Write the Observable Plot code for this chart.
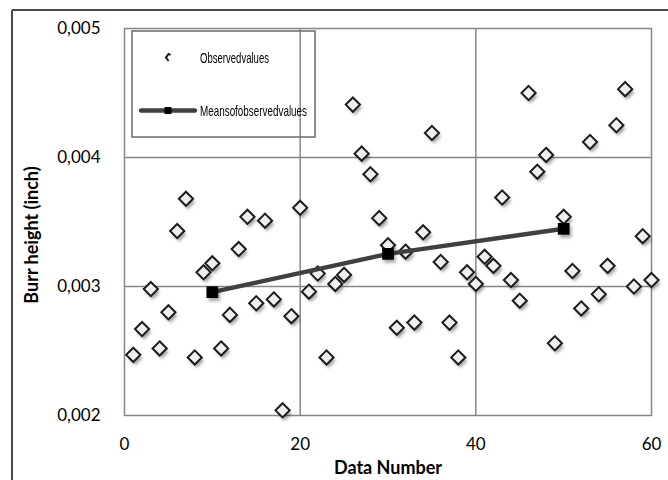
<!DOCTYPE html>
<html><head><meta charset="utf-8">
<script src="https://cdn.jsdelivr.net/npm/d3@7"></script>
<script src="https://cdn.jsdelivr.net/npm/@observablehq/plot@0.6"></script>
<style>body{margin:0;background:#fff;} svg{display:block}</style>
</head><body><div id="chart"></div>
<script>
const dataNumber = [1,2,3,4,5,6,7,8,9,10,11,12,13,14,15,16,17,18,19,20,21,22,23,24,25,26,27,28,29,30,31,32,33,34,35,36,37,38,39,40,41,42,43,44,45,46,47,48,49,50,51,52,53,54,55,56,57,58,59,60];
const burrHeight = [
  0.00247,0.00267,0.00298,0.00252,0.00280,0.00343,0.00368,0.00245,0.00311,0.00318,
  0.00252,0.00278,0.00329,0.00354,0.00287,0.00351,0.00290,0.00204,0.00277,0.00361,
  0.00296,0.00310,0.00245,0.00302,0.00309,0.00441,0.00403,0.00387,0.00353,0.00332,
  0.00268,0.00327,0.00272,0.00342,0.00419,0.00319,0.00272,0.00245,0.00311,0.00302,
  0.00323,0.00316,0.00369,0.00305,0.00289,0.00450,0.00389,0.00402,0.00256,0.00354,
  0.00312,0.00283,0.00412,0.00294,0.00316,0.00425,0.00453,0.00300,0.00339,0.00305
];
const meanX = [10, 30, 50];
const meanY = [0.002956, 0.003253, 0.003447];
const xTicks = [0, 20, 40, 60];
const yTicks = [0.002, 0.003, 0.004, 0.005];
const legendLabels = ["Observedvalues", "Meansofobservedvalues"];
const xTitle = "Data Number";
const yTitle = "Burr height (inch)";

const obs = dataNumber.map((n, i) => ({n, v: burrHeight[i]}));
const means = meanX.map((n, i) => ({n, v: meanY[i]}));
const fmt = d => d.toFixed(3).replace(".", ",");
const grey = "#868686";
const font = "Lato, 'Open Sans', sans-serif";

const plot = Plot.plot({
  width: 668, height: 480,
  marginLeft: 124, marginRight: 17, marginTop: 28, marginBottom: 65,
  style: {fontFamily: font, fontSize: "17px", color: "#000", background: "#fff", overflow: "visible"},
  x: {domain: [0, 60]},
  y: {domain: [0.002, 0.005]},
  marks: [
    Plot.gridX(xTicks.slice(1, -1), {stroke: grey, strokeOpacity: 1, strokeWidth: 1.5}),
    Plot.gridY(yTicks.slice(1, -1), {stroke: grey, strokeOpacity: 1, strokeWidth: 1.5}),
    Plot.frame({stroke: grey, strokeWidth: 1.5}),
    Plot.axisX(xTicks, {tickSize: 0, tickPadding: 22, label: null, fontSize: 17, fill: "#000"}),
    Plot.axisY(yTicks, {tickSize: 0, tickPadding: 24, label: null, tickFormat: fmt, fontSize: 17, fill: "#000"}),
    Plot.text([xTitle], {frameAnchor: "bottom", dy: 53, fontWeight: "bold", fontSize: 18, textAnchor: "middle", lineAnchor: "middle", fill: "#000"}),
    Plot.text([yTitle], {frameAnchor: "left", dx: -92, dy: 13, rotate: -90, fontWeight: "bold", fontSize: 18, textAnchor: "middle", lineAnchor: "middle", fill: "#000"}),
    Plot.dot(obs, {x: "n", y: "v", symbol: "diamond2", r: 6.4, dx: 2, dy: 3.5, fill: "#000", fillOpacity: 0.35, stroke: "none", ariaDescription: "shadow"}),
    Plot.dot(obs, {x: "n", y: "v", symbol: "diamond2", r: 6.4, fill: "#efefef", stroke: "#1c1c1c", strokeWidth: 2}),
    Plot.line(means, {x: "n", y: "v", stroke: "#404040", strokeWidth: 4.5}),
    Plot.dot(means, {x: "n", y: "v", symbol: "square", r: 6.6, dx: 2, dy: 3, fill: "#000", fillOpacity: 0.35, stroke: "none", ariaDescription: "shadow"}),
    Plot.dot(means, {x: "n", y: "v", symbol: "square", r: 6.6, fill: "#000", stroke: "none"})
  ]
});
document.getElementById("chart").appendChild(plot);

const svg = d3.select(plot);
const defs = svg.insert("defs", ":first-child");
defs.append("filter").attr("id", "blurShadow").attr("x", "-50%").attr("y", "-50%").attr("width", "200%").attr("height", "200%")
  .append("feGaussianBlur").attr("stdDeviation", 1.6);
svg.selectAll('g[aria-description="shadow"]').attr("filter", "url(#blurShadow)");

// outer chart border (cropped at right and bottom)
svg.append("line").attr("x1", 12).attr("x2", 668).attr("y1", 10).attr("y2", 10).attr("stroke", "#4a4a4a").attr("stroke-width", 2);
svg.append("line").attr("x1", 12).attr("x2", 12).attr("y1", 10).attr("y2", 480).attr("stroke", "#4a4a4a").attr("stroke-width", 2);

// legend
const lg = svg.append("g").attr("text-anchor", "start");
lg.append("rect").attr("x", 132).attr("y", 31).attr("width", 183).attr("height", 106)
  .attr("fill", "none").attr("stroke", "#6a6a6a").attr("stroke-width", 1.5);
lg.append("path").attr("d", "M170.5,55 L168.5,54 L166,57.5 L168.5,61").attr("fill", "none").attr("stroke", "#000").attr("stroke-width", 1.8);
lg.append("line").attr("x1", 141).attr("x2", 195).attr("y1", 110.5).attr("y2", 110.5).attr("stroke", "#404040").attr("stroke-width", 4.5).attr("stroke-linecap", "round");
lg.append("rect").attr("x", 164.5).attr("y", 107).attr("width", 7).attr("height", 7).attr("fill", "#000");
lg.append("text").attr("x", 200).attr("y", 58).attr("dy", "0.35em").attr("text-anchor", "start").attr("font-family", "'Liberation Sans Narrow', 'Liberation Sans', sans-serif").attr("font-size", 14.5)
  .attr("textLength", 69).attr("lengthAdjust", "spacingAndGlyphs").attr("fill", "#000").text(legendLabels[0]);
lg.append("text").attr("x", 200).attr("y", 111).attr("dy", "0.35em").attr("text-anchor", "start").attr("font-family", "'Liberation Sans Narrow', 'Liberation Sans', sans-serif").attr("font-size", 14.5)
  .attr("textLength", 107).attr("lengthAdjust", "spacingAndGlyphs").attr("fill", "#000").text(legendLabels[1]);
</script>
</body></html>
